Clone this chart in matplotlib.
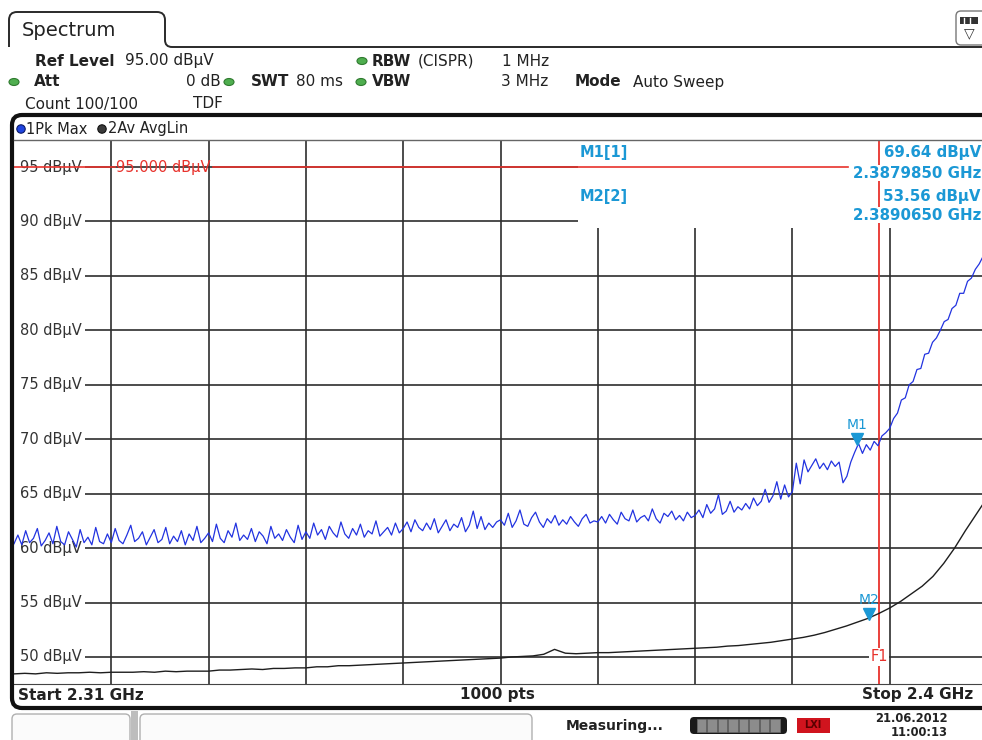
import numpy as np
import matplotlib.pyplot as plt
import matplotlib.transforms as mtransforms
from matplotlib.patches import FancyBboxPatch, Rectangle, Ellipse, Circle, PathPatch
from matplotlib.path import Path

# -------------------------------
# Data
# -------------------------------
f_start, f_stop = 2.31, 2.40          # GHz
sweep_points = 1000
ref_level = 95.0                      # dBuV
f1_freq = 2.39                        # GHz, frequency line F1
level_ticks = [50, 55, 60, 65, 70, 75, 80, 85, 90, 95]

m1_freq, m1_level = 2.387985, 69.64   # M1[1] on Pk Max trace
m2_freq, m2_level = 2.389065, 53.56   # M2[2] on Av trace

# trace 1: Pk Max (251 samples across the span)
pk_max = [
    60.4, 61.2, 60.3, 61.6, 60.5, 60.9, 61.8, 60.2, 60.7, 61.4, 60.4, 62.0, 60.6, 60.3, 61.5, 60.8, 60.1, 61.7, 60.5, 61.0, 60.3, 61.9, 60.6, 60.4, 61.3,
    60.5, 61.8, 60.7, 60.4, 61.2, 62.1, 60.6, 60.9, 61.5, 60.3, 61.0, 61.7, 60.5, 60.8, 61.9, 60.4, 61.1, 60.6, 61.6, 60.3, 61.3, 60.7, 62.0, 60.5, 60.9,
    61.4, 60.6, 62.2, 60.9, 60.5, 61.6, 61.0, 62.3, 60.7, 61.2, 60.8, 61.8, 60.6, 61.5, 61.1, 60.4, 62.0, 60.9, 61.3, 60.7, 61.7, 61.0, 60.5, 62.1, 60.8,
    61.5, 60.9, 62.3, 61.2, 61.7, 60.8, 62.0, 61.4, 61.0, 62.4, 61.3, 60.9, 61.8, 61.2, 62.2, 61.0, 61.6, 61.3, 62.5, 61.1, 61.5, 61.9, 61.2, 62.3, 61.4,
    61.8, 62.4, 61.5, 62.6, 61.9, 61.6, 62.3, 61.7, 62.7, 61.4, 62.0, 62.6, 61.6, 62.2, 61.9, 62.8, 61.5, 62.1, 63.4, 61.8, 62.9, 61.7, 62.3, 61.9, 62.4,
    62.6, 62.1, 63.2, 61.9, 62.5, 63.5, 62.2, 62.0, 62.8, 63.3, 62.4, 61.9, 62.7, 62.3, 63.0, 62.1, 62.6, 62.2, 62.9, 62.4, 62.0, 62.7, 63.1, 62.3, 62.5,
    62.4, 62.9, 62.3, 63.1, 62.6, 62.2, 63.3, 62.7, 62.5, 63.5, 62.4, 62.8, 63.0, 62.5, 63.6, 62.7, 62.3, 63.2, 62.9, 63.4, 62.6, 63.0, 62.5, 63.3, 62.8,
    63.0, 63.5, 62.8, 64.0, 63.2, 63.6, 64.9, 63.1, 63.4, 64.3, 63.3, 63.8, 63.5, 64.1, 63.6, 64.6, 63.9, 64.3, 65.4, 64.2, 64.8, 66.1, 64.5, 65.8, 64.7,
    65.2, 67.8, 65.9, 68.1, 67.0, 67.6, 68.2, 67.3, 67.8, 67.2, 68.0, 67.5, 67.9, 66.0, 66.6, 67.9, 68.8, 69.6, 68.7, 69.5, 69.0, 69.8, 69.4, 70.3, 70.6,
    71.0, 71.9, 72.4, 73.6, 73.8, 75.0, 75.3, 76.4, 76.5, 77.8, 77.9, 78.9, 79.3, 80.0, 80.8, 81.0, 82.0, 82.3, 83.4, 83.4, 84.5, 84.8, 85.6, 86.1, 86.8,
    87.2,
]

# trace 2: Av AvgLin (one sample per MHz)
av_lin = [
    48.45, 48.5, 48.45, 48.55, 48.5, 48.55, 48.55, 48.6, 48.55, 48.6,
    48.6, 48.6, 48.65, 48.6, 48.7, 48.65, 48.7, 48.7, 48.7, 48.8,
    48.8, 48.85, 48.9, 48.85, 48.95, 48.95, 49.0, 49.0, 49.1, 49.1,
    49.2, 49.2, 49.25, 49.3, 49.35, 49.4, 49.45, 49.5, 49.55, 49.6,
    49.65, 49.7, 49.75, 49.8, 49.85, 49.9, 50.0, 50.05, 50.1, 50.25,
    50.7, 50.35, 50.3, 50.35, 50.4, 50.4, 50.45, 50.5, 50.55, 50.6,
    50.65, 50.7, 50.75, 50.8, 50.85, 50.9, 51.0, 51.05, 51.15, 51.25,
    51.35, 51.5, 51.65, 51.8, 52.0, 52.25, 52.55, 52.85, 53.2, 53.55,
    54.0, 54.5, 55.1, 55.8, 56.5, 57.4, 58.6, 60.0, 61.6, 63.1, 64.6,
]

freq_pk = np.linspace(f_start, f_stop, len(pk_max))
freq_av = np.linspace(f_start, f_stop, len(av_lin))

# -------------------------------
# Colours
# -------------------------------
c_blue = '#2233e0'
c_black = '#1e1e1e'
c_grid = '#2e2e2e'
c_red = '#e8322c'
c_mark = '#1b98d5'
c_text = '#333333'
c_green = '#4fae4f'

# -------------------------------
# Figure / plot area (pixels)
# -------------------------------
W, H = 982, 740
fig = plt.figure(figsize=(W / 100, H / 100), dpi=100)
fig.patch.set_facecolor('white')

pl, pr, pt, pb = 14, 987, 140, 684
ax = fig.add_axes([pl / W, 1 - pb / H, (pr - pl) / W, (pb - pt) / H])
ax.set_xlim(f_start, f_stop)
ax.set_ylim(47.52, 97.48)
ax.set_xticks([f_start + (f_stop - f_start) * i / 10 for i in range(1, 10)])
ax.set_yticks(level_ticks)
ax.tick_params(length=0, labelbottom=False, labelleft=False)
ax.set_axisbelow(True)
ax.grid(True, color=c_grid, lw=1.2)
for s in ['top', 'right', 'left']:
    ax.spines[s].set_visible(False)
ax.spines['bottom'].set_color('#444444')

# blank zones: level labels and marker table
ax.add_patch(Rectangle((0, 0), (85 - pl) / (pr - pl), 1, transform=ax.transAxes,
                       facecolor='white', edgecolor='none', zorder=1))
ax.add_patch(Rectangle(((578 - pl) / (pr - pl), (pb - 228) / (pb - pt)), 1, 1,
                       transform=ax.transAxes, facecolor='white', edgecolor='none', zorder=1))

ytrans = mtransforms.blended_transform_factory(ax.transAxes, ax.transData)
for v in level_ticks:
    ax.text((20 - pl) / (pr - pl), v, f"{v} dBµV", transform=ytrans, va='center',
            ha='left', fontsize=10.5, color=c_text, zorder=2)

# reference level line, F1 line
gap0, gap1, ref_end = (115 - pl) / (pr - pl), (213 - pl) / (pr - pl), (848 - pl) / (pr - pl)
ax.axhline(ref_level, xmin=0, xmax=gap0, color=c_red, lw=1.2, zorder=3)
ax.axhline(ref_level, xmin=gap1, xmax=ref_end, color=c_red, lw=1.2, zorder=3)
ax.text(gap0 + 0.001, ref_level, f"{ref_level:.3f} dBµV", transform=ytrans, va='center',
        ha='left', fontsize=10.5, color=c_red, zorder=3)
ax.axvline(f1_freq, color=c_red, lw=1.3, zorder=3)
ax.text(f1_freq, 50, "F1", color=c_red, ha='center', va='center', fontsize=10.5, zorder=5,
        bbox=dict(facecolor='white', edgecolor='none', pad=1))

# traces
ax.plot(freq_av, av_lin, color=c_black, lw=1.0, zorder=4)
ax.plot(freq_pk, pk_max, color=c_blue, lw=0.9, zorder=4)

# markers
for name, fq, lv in [("M1", m1_freq, m1_level), ("M2", m2_freq, m2_level)]:
    tri = mtransforms.offset_copy(ax.transData, fig=fig, x=0, y=4, units='dots')
    ax.plot([fq], [lv], marker='v', ms=8, color=c_mark, transform=tri, zorder=6)
    lab = mtransforms.offset_copy(ax.transData, fig=fig, x=0, y=18, units='dots')
    ax.text(fq, lv, name, transform=lab, ha='center', va='center', fontsize=10,
            color=c_mark, zorder=6)

# -------------------------------
# Screen chrome (pixel overlay)
# -------------------------------
ov = fig.add_axes([0, 0, 1, 1], zorder=5)
ov.set_xlim(0, W)
ov.set_ylim(H, 0)
ov.axis('off')
ov.patch.set_alpha(0)


def t(x, y, s, **kw):
    kw.setdefault('fontsize', 11)
    kw.setdefault('color', '#222222')
    kw.setdefault('va', 'center')
    ov.text(x, y, s, **kw)


def dot(x, y, col, edge):
    ov.add_patch(Ellipse((x, y), 10, 7, facecolor=col, edgecolor=edge, lw=0.8))


# tab
tab = Path([(990, 47), (172, 47), (165, 47), (165, 40), (165, 20), (165, 12), (157, 12),
            (17, 12), (9, 12), (9, 20), (9, 47)],
           [Path.MOVETO, Path.LINETO, Path.CURVE3, Path.CURVE3, Path.LINETO, Path.CURVE3,
            Path.CURVE3, Path.LINETO, Path.CURVE3, Path.CURVE3, Path.LINETO])
ov.add_patch(PathPatch(tab, facecolor='none', edgecolor='#2a2a2a', lw=1.4))
t(22, 30, "Spectrum", fontsize=14)

# top-right icon
ov.add_patch(FancyBboxPatch((956, 11), 34, 34, boxstyle="round,pad=0,rounding_size=5",
                            facecolor='white', edgecolor='#777777', lw=1))
ov.add_patch(Rectangle((960, 17), 18, 7, facecolor='#333333', edgecolor='none'))
for xx in (964, 970):
    ov.plot([xx, xx], [18, 23], color='white', lw=1)
t(969, 33, "▽", fontsize=10, ha='center', color='#333333')

# header lines
t(35, 61, "Ref Level", weight='bold')
t(125, 61, f"{ref_level:.2f} dBµV")
dot(362, 61, c_green, '#2f7a2f')
t(372, 61, "RBW", weight='bold')
t(418, 61, "(CISPR)")
t(502, 61, "1 MHz")

dot(14, 82, c_green, '#2f7a2f')
t(34, 82, "Att", weight='bold')
t(221, 82, "0 dB", ha='right')
dot(229, 82, c_green, '#2f7a2f')
t(251, 82, "SWT", weight='bold')
t(296, 82, "80 ms")
dot(361, 82, c_green, '#2f7a2f')
t(372, 82, "VBW", weight='bold')
t(548, 82, "3 MHz", ha='right')
t(575, 82, "Mode", weight='bold')
t(633, 82, "Auto Sweep")

t(25, 104, "Count 100/100")
t(193, 104, "TDF")

# panel frame
frame = Path([(990, 115), (22, 115), (12, 115), (12, 125), (12, 698), (12, 708), (22, 708),
              (990, 708)],
             [Path.MOVETO, Path.LINETO, Path.CURVE3, Path.CURVE3, Path.LINETO, Path.CURVE3,
              Path.CURVE3, Path.LINETO])
ov.add_patch(PathPatch(frame, facecolor='none', edgecolor='#111111', lw=3))
ov.plot([14, 990], [140, 140], color='#666666', lw=1)

# trace legend strip
ov.add_patch(Circle((21, 129), 4.2, facecolor='#1f44e0', edgecolor='#0a1a66', lw=0.8))
t(26, 129, "1Pk Max", fontsize=10.5)
ov.add_patch(Circle((102, 129), 4.2, facecolor='#3a3a3a', edgecolor='#111111', lw=0.8))
t(108, 129, "2Av AvgLin", fontsize=10.5)

# marker table
t(580, 153, "M1[1]", color=c_mark, weight='bold', fontsize=10.5)
t(580, 196, "M2[2]", color=c_mark, weight='bold', fontsize=10.5)
box = dict(facecolor='white', edgecolor='none', pad=0.5)
t(981, 153, f"{m1_level:.2f} dBµV", ha='right', color=c_mark, weight='bold', fontsize=10.8, bbox=box)
t(981, 173, f"{m1_freq:.7f} GHz", ha='right', color=c_mark, weight='bold', fontsize=10.8, bbox=box)
t(981, 196, f"{m2_level:.2f} dBµV", ha='right', color=c_mark, weight='bold', fontsize=10.8, bbox=box)
t(981, 215, f"{m2_freq:.7f} GHz", ha='right', color=c_mark, weight='bold', fontsize=10.8, bbox=box)

# footer
t(18, 695, f"Start {f_start:.2f} GHz", weight='bold')
t(497, 695, f"{sweep_points} pts", weight='bold', ha='center')
t(973, 695, f"Stop {f_stop:.1f} GHz", weight='bold', ha='right')

# status bar
ov.add_patch(FancyBboxPatch((12, 714), 118, 32, boxstyle="round,pad=0,rounding_size=5",
                            facecolor='#fbfbfb', edgecolor='#b0b0b0', lw=1))
ov.add_patch(Rectangle((131, 711), 7, 29, facecolor='#bdbdbd', edgecolor='none'))
ov.add_patch(FancyBboxPatch((140, 714), 392, 32, boxstyle="round,pad=0,rounding_size=5",
                            facecolor='#fbfbfb', edgecolor='#b0b0b0', lw=1))
t(566, 726, "Measuring...", weight='bold', fontsize=10)
ov.add_patch(FancyBboxPatch((690, 717), 97, 17, boxstyle="round,pad=0,rounding_size=4",
                            facecolor='#1a1a1a', edgecolor='none'))
for i in range(8):
    ov.add_patch(Rectangle((697 + i * 10.5, 719), 9.5, 13, facecolor='#8c8c8c',
                           edgecolor='#6a6a6a', lw=0.5))
ov.add_patch(Rectangle((797, 718), 33, 15, facecolor='#d0141e', edgecolor='none'))
t(813, 725, "LXI", ha='center', fontsize=7, weight='bold', color='#5a0000')
t(948, 718, "21.06.2012", ha='right', fontsize=8.3, weight='bold')
t(948, 733, "11:00:13", ha='right', fontsize=8.3, weight='bold')

fig.savefig("out.png", dpi=100, facecolor='white')
